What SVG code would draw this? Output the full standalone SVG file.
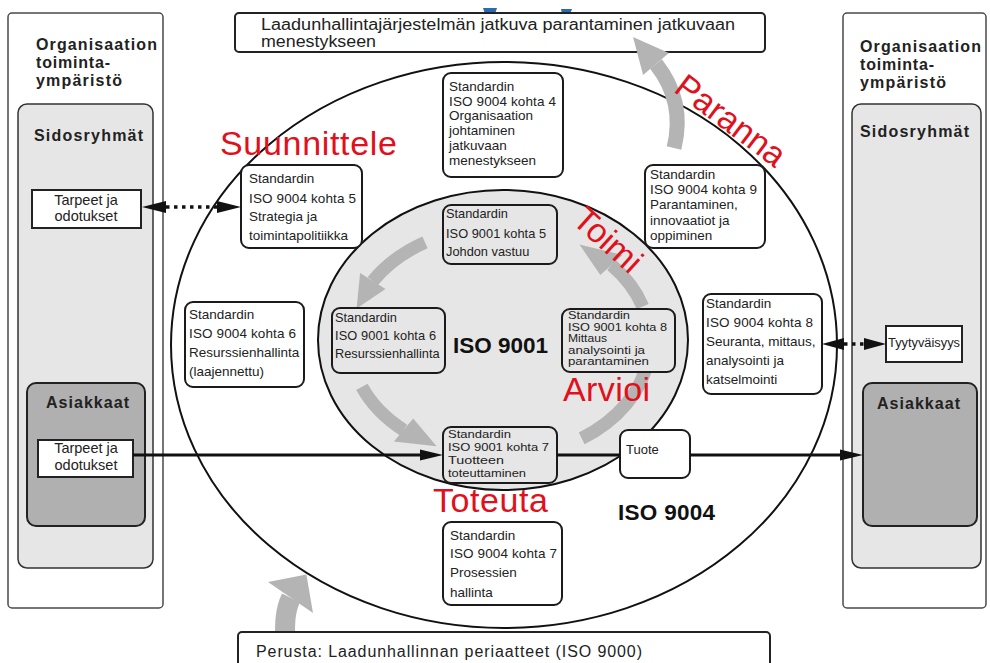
<svg xmlns="http://www.w3.org/2000/svg" width="990" height="663" viewBox="0 0 990 663">
<defs>
<style>
.t{font-family:"Liberation Sans",Arial,Helvetica,sans-serif;fill:#222}
.s13{font-size:13.5px}
.s12{font-size:12.8px}
.s11{font-size:11px}
.s16{font-size:16px}
.hd{font-size:16px;font-weight:bold}
.big{font-size:22.5px;font-weight:bold;fill:#111}
.red{font-family:"Liberation Sans",Arial,Helvetica,sans-serif;font-size:34px;fill:#e0101c}
.box{fill:#fff;stroke:#1b1b1b;stroke-width:2}
.ibox{fill:#e6e6e6;stroke:#1b1b1b;stroke-width:2}
.sq{fill:#fff;stroke:#222;stroke-width:2}
.cyc{fill:none;stroke:#b4b4b4;stroke-width:13}
.gray{fill:#b4b4b4}
.ln{stroke:#111;stroke-width:3;fill:none}
.dot{stroke:#111;stroke-width:3.5;stroke-dasharray:3.5 4.5;fill:none}
.ah{fill:#111}
</style>
</defs>

<rect x="0" y="0" width="990" height="663" fill="#fff"/>

<!-- small blue marks at the top edge -->
<path d="M483 8 h14 l-2 6 h-10 z" fill="#2b6cb0"/>
<path d="M561 9 h11 l-2 5 h-8 z" fill="#2b6cb0"/>

<!-- environment panel, left -->
<g id="env-left">
  <rect x="8" y="13" width="155" height="595" rx="4" fill="#fff" stroke="#4a4a4a" stroke-width="1.5"/>
  <text class="t hd" x="36" y="50" textLength="121">Organisaation</text>
  <text class="t hd" x="36" y="68" textLength="74">toiminta-</text>
  <text class="t hd" x="36" y="86" textLength="86">ympäristö</text>
  <rect x="18" y="104" width="135" height="464" rx="9" fill="#e6e6e6" stroke="#333" stroke-width="1.5"/>
  <text class="t hd" x="34" y="141" textLength="109">Sidosryhmät</text>
</g>
<g id="needs-left">
  <rect class="sq" x="32" y="190" width="109" height="38"/>
  <text class="t" x="86" y="205" font-size="14.5" text-anchor="middle">Tarpeet ja</text>
  <text class="t" x="86" y="221" font-size="14.5" text-anchor="middle">odotukset</text>
</g>
<g id="customers-left">
  <rect x="27" y="383" width="118" height="143" rx="9" fill="#b0b0b0" stroke="#222" stroke-width="2"/>
  <text class="t hd" x="46" y="408" textLength="83">Asiakkaat</text>
  <rect class="sq" x="38" y="440" width="95" height="37"/>
  <text class="t" x="86" y="453" font-size="14.5" text-anchor="middle">Tarpeet ja</text>
  <text class="t" x="86" y="470" font-size="14.5" text-anchor="middle">odotukset</text>
</g>

<!-- environment panel, right -->
<g id="env-right">
  <rect x="843" y="13" width="143" height="595" rx="4" fill="#fff" stroke="#4a4a4a" stroke-width="1.5"/>
  <text class="t hd" x="860" y="52" textLength="121">Organisaation</text>
  <text class="t hd" x="860" y="70" textLength="74">toiminta-</text>
  <text class="t hd" x="860" y="88" textLength="86">ympäristö</text>
  <rect x="852" y="104" width="129" height="464" rx="9" fill="#e6e6e6" stroke="#333" stroke-width="1.5"/>
  <text class="t hd" x="860" y="137" textLength="109">Sidosryhmät</text>
</g>
<g id="satisfaction">
  <rect class="sq" x="886" y="326" width="76" height="36"/>
  <text class="t" x="888" y="347" font-size="12" textLength="72" lengthAdjust="spacingAndGlyphs">Tyytyväisyys</text>
</g>
<g id="customers-right">
  <rect x="863" y="383" width="114" height="143" rx="9" fill="#b0b0b0" stroke="#222" stroke-width="2"/>
  <text class="t hd" x="877" y="409" textLength="83">Asiakkaat</text>
</g>

<!-- ISO 9004 outer ellipse and ISO 9001 inner ellipse -->
<g id="iso9004">
  <ellipse cx="504" cy="345" rx="333" ry="283" fill="#fff" stroke="#111" stroke-width="2"/>
  <text class="t big" x="618" y="520" textLength="97">ISO 9004</text>
</g>
<g id="iso9001">
  <ellipse cx="503" cy="340" rx="185" ry="150" fill="#e6e6e6" stroke="#111" stroke-width="2"/>
  <text class="t big" x="453" y="353" textLength="95">ISO 9001</text>
</g>

<!-- PDCA cycle arrows inside ISO 9001 -->
<g id="cycle">
  <path class="cyc" d="M425 242.4 A150 115 0 0 0 372.8 281.1"/>
  <polygon class="gray" points="385.5,289 360.1,273.1 356.6,308.4"/>
  <path class="cyc" d="M361.9 386.9 A150 115 0 0 0 403.6 430.1"/>
  <polygon class="gray" points="413.2,418.6 393.9,441.6 436.6,446.2"/>
  <path class="cyc" d="M581.7 438.4 A150 115 0 0 0 648.5 358"/>
  <path class="cyc" d="M642.7 306.5 A150 115 0 0 0 611.5 265"/>
  <polygon class="gray" points="600.3,275.1 622.6,255 579.5,244.5"/>
</g>

<!-- top goal box -->
<g id="goal">
  <rect x="235" y="13" width="530" height="39" rx="4" fill="#fff" stroke="#222" stroke-width="2"/>
  <text class="t s16" x="261" y="30" textLength="474" lengthAdjust="spacingAndGlyphs">Laadunhallintajärjestelmän jatkuva parantaminen jatkuvaan</text>
  <text class="t s16" x="261" y="47" textLength="115" lengthAdjust="spacingAndGlyphs">menestykseen</text>
</g>

<!-- improvement arrow -->
<g id="improve-arrow">
  <path d="M674 148 C681 120 678 92 656 64" fill="none" stroke="#b4b4b4" stroke-width="15"/>
  <polygon class="gray" points="668.9,53 643.1,75 633,37"/>
</g>

<!-- foundation arrow and box -->
<g id="foundation">
  <path d="M285 645 C285 628 284 612 291 598" fill="none" stroke="#b4b4b4" stroke-width="20"/>
  <polygon class="gray" points="268,582 313,613 306.4,574.4"/>
  <rect x="238" y="632" width="532" height="40" rx="4" fill="#fff" stroke="#222" stroke-width="2"/>
  <text class="t s16" x="256" y="657" textLength="386">Perusta: Laadunhallinnan periaatteet (ISO 9000)</text>
</g>

<!-- ISO 9004 clauses -->
<g id="c9004-4">
  <rect class="box" x="443" y="73" width="120" height="104" rx="8"/>
  <text class="t s13" x="449" y="91">Standardin</text>
  <text class="t s13" x="449" y="106" textLength="107">ISO 9004 kohta 4</text>
  <text class="t s13" x="449" y="120">Organisaation</text>
  <text class="t s13" x="449" y="135">johtaminen</text>
  <text class="t s13" x="449" y="150">jatkuvaan</text>
  <text class="t s13" x="449" y="165">menestykseen</text>
</g>
<g id="c9004-5">
  <rect class="box" x="241" y="165" width="121" height="83" rx="8"/>
  <text class="t s13" x="249" y="183">Standardin</text>
  <text class="t s13" x="249" y="203" textLength="107">ISO 9004 kohta 5</text>
  <text class="t s13" x="249" y="221">Strategia ja</text>
  <text class="t s13" x="249" y="240">toimintapolitiikka</text>
</g>
<g id="c9004-6">
  <rect class="box" x="185" y="302" width="119" height="85" rx="8"/>
  <text class="t s13" x="189" y="319">Standardin</text>
  <text class="t s13" x="189" y="338" textLength="107">ISO 9004 kohta 6</text>
  <text class="t s13" x="189" y="357">Resurssienhallinta</text>
  <text class="t s13" x="189" y="376">(laajennettu)</text>
</g>
<g id="c9004-9">
  <rect class="box" x="645" y="165" width="120" height="83" rx="8"/>
  <text class="t s13" x="650" y="179">Standardin</text>
  <text class="t s13" x="650" y="194" textLength="107">ISO 9004 kohta 9</text>
  <text class="t s13" x="650" y="209">Parantaminen,</text>
  <text class="t s13" x="650" y="225">innovaatiot ja</text>
  <text class="t s13" x="650" y="240">oppiminen</text>
</g>
<g id="c9004-8">
  <rect class="box" x="703" y="294" width="119" height="100" rx="8"/>
  <text class="t s13" x="706" y="308">Standardin</text>
  <text class="t s13" x="706" y="327" textLength="107">ISO 9004 kohta 8</text>
  <text class="t s13" x="706" y="346">Seuranta, mittaus,</text>
  <text class="t s13" x="706" y="365">analysointi ja</text>
  <text class="t s13" x="706" y="384">katselmointi</text>
</g>
<g id="c9004-7">
  <rect class="box" x="443" y="522" width="119" height="83" rx="8"/>
  <text class="t s13" x="450" y="540">Standardin</text>
  <text class="t s13" x="450" y="558" textLength="107">ISO 9004 kohta 7</text>
  <text class="t s13" x="450" y="577">Prosessien</text>
  <text class="t s13" x="450" y="597">hallinta</text>
</g>

<!-- ISO 9001 clauses -->
<g id="c9001-5">
  <rect class="ibox" x="443" y="205" width="114" height="59" rx="8"/>
  <text class="t s12" x="446" y="218">Standardin</text>
  <text class="t s12" x="446" y="238" textLength="100">ISO 9001 kohta 5</text>
  <text class="t s12" x="446" y="256">Johdon vastuu</text>
</g>
<g id="c9001-6">
  <rect class="ibox" x="332" y="308" width="113" height="65" rx="8"/>
  <text class="t s12" x="335" y="322">Standardin</text>
  <text class="t s12" x="335" y="340" textLength="101">ISO 9001 kohta 6</text>
  <text class="t s12" x="335" y="358">Resurssienhallinta</text>
</g>
<g id="c9001-8">
  <rect class="ibox" x="562" y="309" width="113" height="63" rx="8"/>
  <text class="t s11" x="568" y="319" textLength="62" lengthAdjust="spacingAndGlyphs">Standardin</text>
  <text class="t s11" x="568" y="330.5" textLength="99" lengthAdjust="spacingAndGlyphs">ISO 9001 kohta 8</text>
  <text class="t s11" x="568" y="342" textLength="39" lengthAdjust="spacingAndGlyphs">Mittaus</text>
  <text class="t s11" x="568" y="353.5" textLength="77" lengthAdjust="spacingAndGlyphs">analysointi ja</text>
  <text class="t s11" x="568" y="365" textLength="81" lengthAdjust="spacingAndGlyphs">parantaminen</text>
</g>
<g id="c9001-7">
  <rect class="ibox" x="443" y="427" width="114" height="56" rx="8"/>
  <text class="t s11" x="448" y="438" textLength="63" lengthAdjust="spacingAndGlyphs">Standardin</text>
  <text class="t s11" x="448" y="451" textLength="101" lengthAdjust="spacingAndGlyphs">ISO 9001 kohta 7</text>
  <text class="t s11" x="448" y="464" textLength="56" lengthAdjust="spacingAndGlyphs">Tuotteen</text>
  <text class="t s11" x="448" y="477" textLength="78" lengthAdjust="spacingAndGlyphs">toteuttaminen</text>
</g>
<g id="product">
  <rect class="box" x="620" y="430" width="70" height="48" rx="8"/>
  <text class="t" x="626" y="454" font-size="13">Tuote</text>
</g>

<!-- PDCA phase labels -->
<g id="phases">
  <text class="red" x="220" y="155" textLength="177">Suunnittele</text>
  <text class="red" x="433" y="512" textLength="115">Toteuta</text>
  <text class="red" x="563" y="401" textLength="87">Arvioi</text>
  <text class="red" font-size="32" transform="translate(608 240) rotate(42)" x="0" y="11.5" text-anchor="middle">Toimi</text>
  <text class="red" transform="translate(731 120) rotate(37)" x="0" y="12" text-anchor="middle">Paranna</text>
</g>

<!-- connectors -->
<g id="connectors">
  <line class="dot" x1="166" y1="207" x2="217" y2="207"/>
  <polygon class="ah" points="142,207 166,201 166,213"/>
  <polygon class="ah" points="241,207 217,201 217,213"/>

  <line class="dot" x1="844" y1="344" x2="864" y2="344"/>
  <polygon class="ah" points="822,344 844,338 844,350"/>
  <polygon class="ah" points="886,344 864,338 864,350"/>

  <line class="ln" x1="133" y1="455" x2="422" y2="455"/>
  <polygon class="ah" points="443,455 420,449.5 420,460.5"/>
  <line class="ln" x1="557" y1="455" x2="620" y2="455"/>
  <line class="ln" x1="690" y1="455" x2="842" y2="455"/>
  <polygon class="ah" points="863,455 840,449.5 840,460.5"/>
</g>
</svg>
